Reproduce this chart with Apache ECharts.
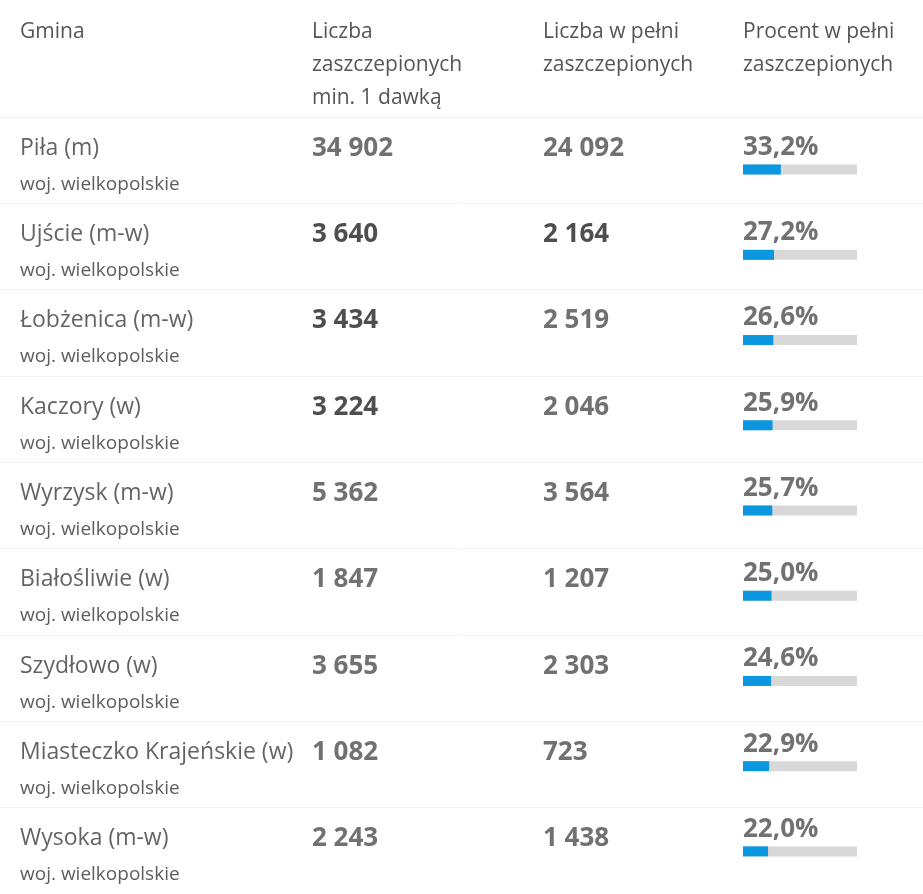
<!DOCTYPE html>
<html>
<head>
<meta charset="utf-8">
<script src="https://cdn.jsdelivr.net/npm/echarts@6/dist/echarts.min.js"></script>
<style>
  html, body { margin: 0; padding: 0; background: #fff; }
  #chart { width: 923px; height: 894px; }
</style>
</head>
<body>
<div id="chart"></div>
<script>
var gminy = ['Piła (m)', 'Ujście (m-w)', 'Łobżenica (m-w)', 'Kaczory (w)', 'Wyrzysk (m-w)',
    'Białośliwie (w)', 'Szydłowo (w)', 'Miasteczko Krajeńskie (w)', 'Wysoka (m-w)'];
var wojewodztwa = ['woj. wielkopolskie', 'woj. wielkopolskie', 'woj. wielkopolskie', 'woj. wielkopolskie',
    'woj. wielkopolskie', 'woj. wielkopolskie', 'woj. wielkopolskie', 'woj. wielkopolskie', 'woj. wielkopolskie'];
var min1Dawka = [34902, 3640, 3434, 3224, 5362, 1847, 3655, 1082, 2243];
var wPelni = [24092, 2164, 2519, 2046, 3564, 1207, 2303, 723, 1438];
var procent = [33.2, 27.2, 26.6, 25.9, 25.7, 25.0, 24.6, 22.9, 22.0];
// which numbers are printed darker in the table
var min1Wyrozn = [false, true, true, true, false, false, false, false, false];
var wPelniWyrozn = [false, true, false, false, false, false, false, false, false];
var naglowki = ['Gmina', 'Liczba\nzaszczepionych\nmin. 1 dawką', 'Liczba w pełni\nzaszczepionych', 'Procent w pełni\nzaszczepionych'];

var kolumnyX = [20, 312, 543, 743];
var FONT = '"Open Sans", sans-serif';

function fmtLiczba(v) {
    return String(v).replace(/\B(?=(\d{3})+(?!\d))/g, ' ');
}
function fmtProc(v) {
    return v.toFixed(1).replace('.', ',') + '%';
}

var rowTop = 117;
var rowH = 87.75;
var gridH = rowH * gminy.length;

function hiddenX(idx, max) {
    return {type: 'value', min: 0, max: max, show: false, gridIndex: idx};
}
function rowsY(idx, split) {
    return {
        type: 'category', data: gminy, inverse: true, gridIndex: idx,
        axisLine: {show: false}, axisTick: {show: false}, axisLabel: {show: false},
        splitLine: {show: split, interval: 0, lineStyle: {color: '#f2f2f2', width: 1}}
    };
}

function textSeries(grid, values, fmt, offX, offY, style, dark) {
    return {
        type: 'scatter', xAxisIndex: grid, yAxisIndex: grid,
        symbolSize: 0, silent: true,
        data: values.map(function (v, i) {
            return {
                value: [0, gminy[i]],
                label: {color: dark && dark[i] ? '#222' : style.color},
                raw: v
            };
        }),
        label: {
            show: true, position: 'right', distance: 0, offset: [offX, offY],
            fontFamily: FONT, fontSize: style.size, fontWeight: style.weight || 'normal',
            color: style.color,
            formatter: function (p) { return fmt(p.data.raw); }
        }
    };
}

var ident = function (v) { return v; };

var option = {
    backgroundColor: '#fff',
    animation: false,
    graphic: naglowki.map(function (t, i) {
        return {
            type: 'text', left: kolumnyX[i], top: 16, silent: true,
            style: {text: t, fontFamily: FONT, fontSize: 21, lineHeight: 33, fill: '#555'}
        };
    }),
    grid: [
        {left: 0, right: 0, top: rowTop, height: gridH},
        {left: kolumnyX[1], width: 200, top: rowTop, height: gridH},
        {left: kolumnyX[2], width: 180, top: rowTop, height: gridH},
        {left: kolumnyX[3], width: 114, top: rowTop + 10, height: gridH}
    ],
    xAxis: [hiddenX(0, 1), hiddenX(1, 1), hiddenX(2, 1), hiddenX(3, 100)],
    yAxis: [rowsY(0, true), rowsY(1, false), rowsY(2, false), rowsY(3, false)],
    series: [
        textSeries(0, gminy, ident, 20, -12, {size: 23, color: '#3c3c3c'}),
        textSeries(0, wojewodztwa, ident, 20, 24, {size: 19, color: '#333'}),
        textSeries(1, min1Dawka, fmtLiczba, 0, -12, {size: 26, weight: 'bold', color: '#4d4d4d'}, min1Wyrozn),
        textSeries(2, wPelni, fmtLiczba, 0, -12, {size: 26, weight: 'bold', color: '#4d4d4d'}, wPelniWyrozn),
        textSeries(3, procent, fmtProc, 0, -22, {size: 26, weight: 'bold', color: '#4d4d4d'}),
        {
            type: 'bar', xAxisIndex: 3, yAxisIndex: 3, silent: true,
            data: procent, barWidth: 10,
            itemStyle: {color: '#0b96e0'},
            showBackground: true,
            backgroundStyle: {color: '#d8d8d8'}
        }
    ]
};

echarts.init(document.getElementById('chart')).setOption(option);
</script>
</body>
</html>
